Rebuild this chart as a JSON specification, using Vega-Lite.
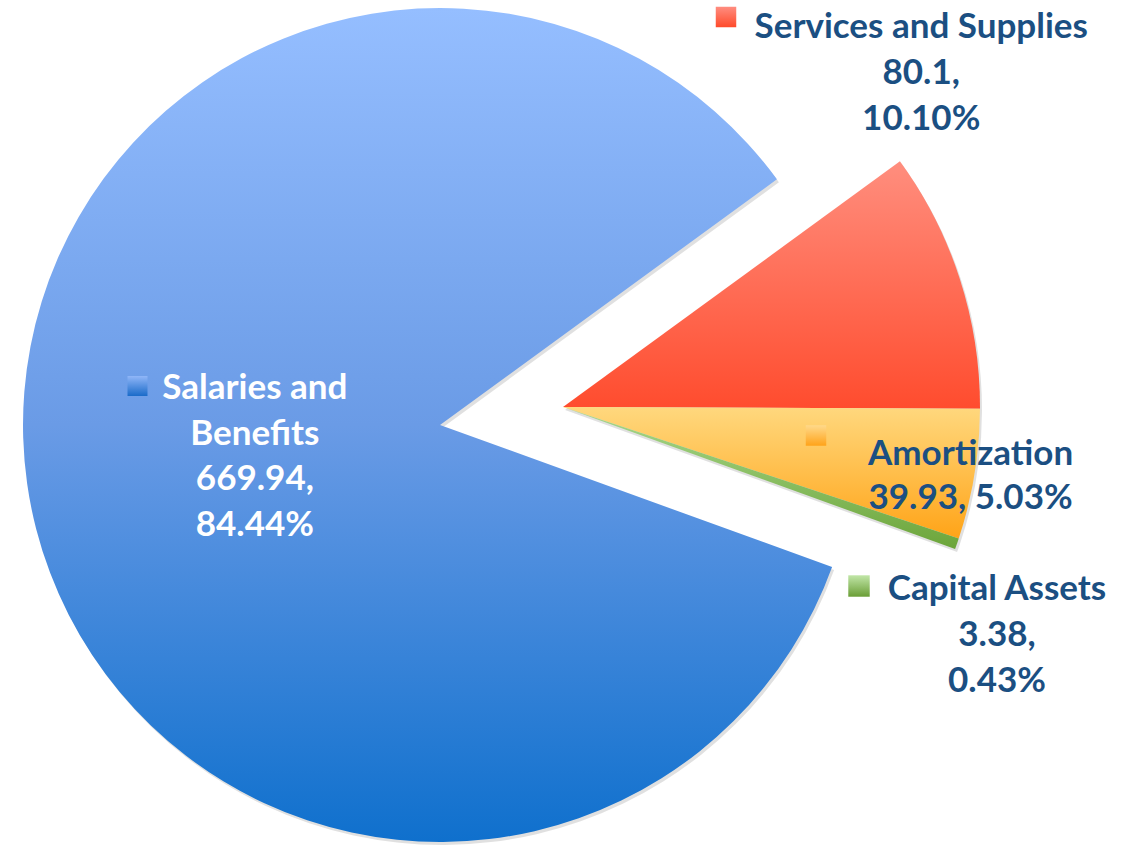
{
  "$schema": "https://vega.github.io/schema/vega-lite/v6.json",
  "width": 1135,
  "height": 845,
  "padding": 0,
  "autosize": {"type": "none"},
  "background": "white",
  "view": {"stroke": null},
  "data": {
    "values": [
      {"category": "Salaries and Benefits", "value": 669.94, "pct": "84.44%", "label": "Salaries and\nBenefits\n669.94,\n84.44%"},
      {"category": "Services and Supplies", "value": 80.1, "pct": "10.10%", "label": "Services and Supplies\n80.1,\n10.10%"},
      {"category": "Amortization", "value": 39.93, "pct": "5.03%", "label": "Amortization\n39.93, 5.03%"},
      {"category": "Capital Assets", "value": 3.38, "pct": "0.43%", "label": "Capital Assets\n3.38,\n0.43%"}
    ]
  },
  "transform": [
    {"calculate": "datum.category === 'Salaries and Benefits' ? 'main' : 'exploded'", "as": "grp"}
  ],
  "encoding": {
    "x": {"field": "grp", "type": "nominal", "scale": {"type": "point", "domain": ["main", "exploded"], "range": [440, 563], "padding": 0}, "axis": null},
    "y": {"field": "grp", "type": "nominal", "scale": {"type": "point", "domain": ["main", "exploded"], "range": [425, 407], "padding": 0}, "axis": null}
  },
  "layer": [
    {
      "mark": {"type": "arc", "outerRadius": 417, "xOffset": 2, "yOffset": 3, "color": "#000000", "opacity": 0.12},
      "encoding": {
        "theta": {"field": "value", "type": "quantitative", "stack": true, "scale": {"domain": [0, 793.35], "range": [1.91812, 8.20131]}},
        "order": {"field": "value", "type": "quantitative", "sort": "descending"},
        "detail": {"field": "category", "type": "nominal"}
      }
    },
    {
      "mark": {"type": "arc", "outerRadius": 417},
      "encoding": {
        "theta": {"field": "value", "type": "quantitative", "stack": true, "scale": {"domain": [0, 793.35], "range": [1.91812, 8.20131]}},
        "order": {"field": "value", "type": "quantitative", "sort": "descending"},
        "detail": {"field": "category", "type": "nominal"},
        "color": {
          "condition": [
            {"test": "datum.category === 'Services and Supplies'", "value": {"gradient": "linear", "x1": 0, "y1": 0, "x2": 0, "y2": 1, "stops": [{"offset": 0, "color": "#FF8E7E"}, {"offset": 1, "color": "#FF4C2E"}]}},
            {"test": "datum.category === 'Amortization'", "value": {"gradient": "linear", "x1": 0, "y1": 0, "x2": 0, "y2": 1, "stops": [{"offset": 0, "color": "#FFD87E"}, {"offset": 1, "color": "#FFA418"}]}},
            {"test": "datum.category === 'Capital Assets'", "value": {"gradient": "linear", "x1": 0, "y1": 0, "x2": 0, "y2": 1, "stops": [{"offset": 0, "color": "#A8D88C"}, {"offset": 1, "color": "#6CA53A"}]}}
          ],
          "value": {"gradient": "linear", "x1": 0, "y1": 0, "x2": 0, "y2": 1, "stops": [{"offset": 0, "color": "#95BEFF"}, {"offset": 0.5, "color": "#6A9BE6"}, {"offset": 1, "color": "#0F70CD"}]}
        }
      }
    },
    {
      "mark": {"type": "text", "radius": 187, "dy": -63, "font": "Lato", "fontWeight": "bold", "fontSize": 35, "lineHeight": 45.5, "lineBreak": "\n", "align": "center", "baseline": "middle", "color": "white"},
      "encoding": {
        "theta": {"field": "value", "type": "quantitative", "stack": true, "scale": {"domain": [0, 793.35], "range": [1.91812, 8.20131]}},
        "order": {"field": "value", "type": "quantitative", "sort": "descending"},
        "detail": {"field": "category", "type": "nominal"},
        "text": {"condition": {"test": "datum.category === 'Salaries and Benefits'", "field": "label", "type": "nominal"}, "value": ""}
      }
    },
    {
      "mark": {"type": "text", "radius": 490, "dx": -108, "dy": -229, "font": "Lato", "fontWeight": "bold", "fontSize": 35, "lineHeight": 46, "lineBreak": "\n", "align": "center", "baseline": "middle", "color": "#1B4F82"},
      "encoding": {
        "theta": {"field": "value", "type": "quantitative", "stack": true, "scale": {"domain": [0, 793.35], "range": [1.91812, 8.20131]}},
        "order": {"field": "value", "type": "quantitative", "sort": "descending"},
        "detail": {"field": "category", "type": "nominal"},
        "text": {"condition": {"test": "datum.category === 'Services and Supplies'", "field": "label", "type": "nominal"}, "value": ""}
      }
    },
    {
      "mark": {"type": "text", "radius": 413, "dy": -20, "font": "Lato", "fontWeight": "bold", "fontSize": 35, "lineHeight": 44, "lineBreak": "\n", "align": "center", "baseline": "middle", "color": "#1B4F82"},
      "encoding": {
        "theta": {"field": "value", "type": "quantitative", "stack": true, "scale": {"domain": [0, 793.35], "range": [1.91812, 8.20131]}},
        "order": {"field": "value", "type": "quantitative", "sort": "descending"},
        "detail": {"field": "category", "type": "nominal"},
        "text": {"condition": {"test": "datum.category === 'Amortization'", "field": "label", "type": "nominal"}, "value": ""}
      }
    },
    {
      "mark": {"type": "text", "radius": 480, "dx": -19.5, "dy": 25, "font": "Lato", "fontWeight": "bold", "fontSize": 35, "lineHeight": 46, "lineBreak": "\n", "align": "center", "baseline": "middle", "color": "#1B4F82"},
      "encoding": {
        "theta": {"field": "value", "type": "quantitative", "stack": true, "scale": {"domain": [0, 793.35], "range": [1.91812, 8.20131]}},
        "order": {"field": "value", "type": "quantitative", "sort": "descending"},
        "detail": {"field": "category", "type": "nominal"},
        "text": {"condition": {"test": "datum.category === 'Capital Assets'", "field": "label", "type": "nominal"}, "value": ""}
      }
    },
    {
      "transform": [{"filter": "datum.category === 'Salaries and Benefits'"}],
      "mark": {"type": "point", "shape": "square", "filled": true, "size": 400, "opacity": 1, "xOffset": -302.5, "yOffset": -39},
      "encoding": {"color": {"value": {"gradient": "linear", "x1": 0, "y1": 0, "x2": 0, "y2": 1, "stops": [{"offset": 0, "color": "#90B6F8"}, {"offset": 1, "color": "#1A6BC9"}]}}}
    },
    {
      "transform": [{"filter": "datum.category === 'Services and Supplies'"}],
      "mark": {"type": "point", "shape": "square", "filled": true, "size": 420, "opacity": 1, "xOffset": 163, "yOffset": -390},
      "encoding": {"color": {"value": {"gradient": "linear", "x1": 0, "y1": 0, "x2": 0, "y2": 1, "stops": [{"offset": 0, "color": "#FF8D80"}, {"offset": 1, "color": "#FF4A2A"}]}}}
    },
    {
      "transform": [{"filter": "datum.category === 'Amortization'"}],
      "mark": {"type": "point", "shape": "square", "filled": true, "size": 420, "opacity": 1, "xOffset": 253, "yOffset": 28.5},
      "encoding": {"color": {"value": {"gradient": "linear", "x1": 0, "y1": 0, "x2": 0, "y2": 1, "stops": [{"offset": 0, "color": "#FFD98A"}, {"offset": 1, "color": "#FFA31A"}]}}}
    },
    {
      "transform": [{"filter": "datum.category === 'Capital Assets'"}],
      "mark": {"type": "point", "shape": "square", "filled": true, "size": 460, "opacity": 1, "xOffset": 296, "yOffset": 179},
      "encoding": {"color": {"value": {"gradient": "linear", "x1": 0, "y1": 0, "x2": 0, "y2": 1, "stops": [{"offset": 0, "color": "#C1E6A8"}, {"offset": 1, "color": "#6A9E36"}]}}}
    }
  ]
}
